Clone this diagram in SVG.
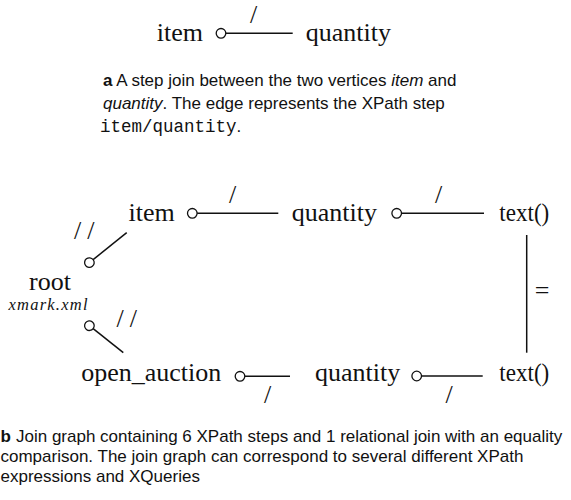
<svg xmlns="http://www.w3.org/2000/svg" width="571" height="500" viewBox="0 0 571 500">
  <style>
    .lbl { font-family: "Liberation Serif", "Times New Roman", serif; font-size: 26px; fill: #111; }
    .sub { font-family: "Liberation Serif", "Times New Roman", serif; font-size: 16.5px; font-style: italic; fill: #111; }
    .step { font-family: "Liberation Serif", "Times New Roman", serif; font-size: 26px; fill: #111; }
    .cap { font-family: "Liberation Sans", Arial, sans-serif; font-size: 17px; fill: #111; }
    .mono { font-family: "Liberation Mono", "Courier New", monospace; font-size: 17.5px; }
    .edge { stroke: #111; stroke-width: 1.5; fill: none; }
    .tail { marker-start: url(#tail); }
  </style>
  <defs>
    <!-- hollow circle at the source end of a step edge -->
    <marker id="tail" markerWidth="14" markerHeight="14" refX="7" refY="7" markerUnits="userSpaceOnUse" orient="auto">
      <circle cx="7" cy="7" r="4.8" fill="#fff" stroke="#111" stroke-width="1.3"/>
    </marker>
  </defs>

  <!-- (a) single step join -->
  <g id="connectors-a">
    <line class="edge tail" x1="221" y1="33.3" x2="292.7" y2="33.3"/>
    <text class="step" x="250" y="23">/</text>
  </g>
  <g id="a-item"><text class="lbl" x="156.7" y="40.5">item</text></g>
  <g id="a-quantity"><text class="lbl" x="305.7" y="40.5">quantity</text></g>

  <text class="cap" x="103" y="86"><tspan font-weight="bold">a</tspan> A step join between the two vertices <tspan font-style="italic">item</tspan> and</text>
  <text class="cap" x="103" y="109"><tspan font-style="italic">quantity</tspan>. The edge represents the XPath step</text>
  <text class="cap" x="100" y="132"><tspan class="mono">item/quantity</tspan>.</text>

  <!-- (b) join graph -->
  <g id="connectors-b">
    <line class="edge tail" x1="89.4" y1="262.6" x2="126.7" y2="232.7"/>
    <text class="step" x="74" y="239" letter-spacing="6">//</text>
    <line class="edge tail" x1="89.4" y1="325.7" x2="123.3" y2="352.7"/>
    <text class="step" x="116.5" y="326.5" letter-spacing="6">//</text>
    <line class="edge tail" x1="192.3" y1="213.3" x2="278.3" y2="213.3"/>
    <text class="step" x="229" y="203">/</text>
    <line class="edge tail" x1="396.7" y1="213.3" x2="484" y2="213.3"/>
    <text class="step" x="435" y="202.5">/</text>
    <line class="edge tail" x1="240" y1="376.3" x2="290" y2="376.3"/>
    <text class="step" x="264" y="403">/</text>
    <line class="edge tail" x1="416.7" y1="376" x2="482.7" y2="376"/>
    <text class="step" x="445.5" y="402.5">/</text>
    <line class="edge" x1="526.7" y1="235" x2="526.7" y2="352.7"/>
    <text class="step" x="534.8" y="299" font-size="22">=</text>
  </g>
  <g id="root">
    <text class="lbl" x="50" y="289.5" text-anchor="middle">root</text>
    <text class="sub" x="8.5" y="309.5" textLength="79" lengthAdjust="spacing">xmark.xml</text>
  </g>
  <g id="item"><text class="lbl" x="128.5" y="220.8">item</text></g>
  <g id="quantity-1"><text class="lbl" x="291.7" y="220.8">quantity</text></g>
  <g id="text-1"><text class="lbl" x="499.3" y="220.8" textLength="50" lengthAdjust="spacingAndGlyphs">text()</text></g>
  <g id="open_auction"><text class="lbl" x="81.2" y="381">open_auction</text></g>
  <g id="quantity-2"><text class="lbl" x="315" y="381">quantity</text></g>
  <g id="text-2"><text class="lbl" x="499.3" y="381" textLength="50" lengthAdjust="spacingAndGlyphs">text()</text></g>

  <text class="cap" x="0.5" y="441.5"><tspan font-weight="bold">b</tspan><tspan x="16">Join graph containing 6 XPath steps and 1 relational join with an equality</tspan></text>
  <text class="cap" x="0.5" y="461.5">comparison. The join graph can correspond to several different XPath</text>
  <text class="cap" x="0.5" y="482">expressions and XQueries</text>
</svg>
